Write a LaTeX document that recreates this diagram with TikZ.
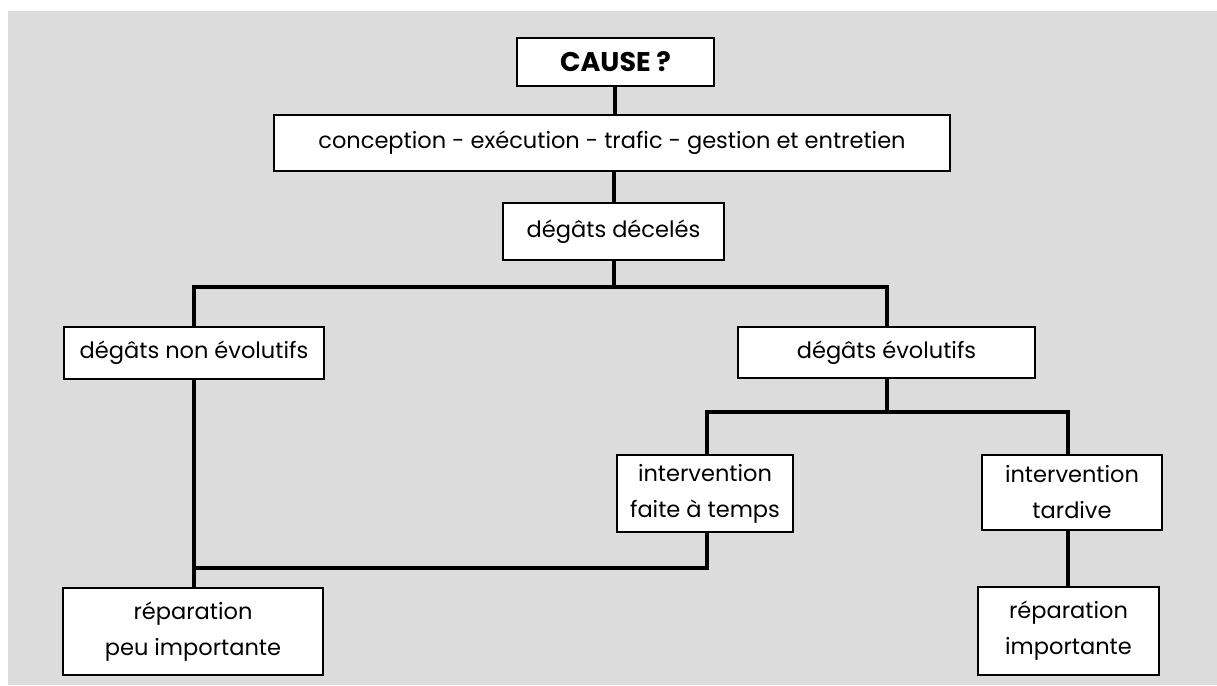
\documentclass[tikz,border=0pt]{standalone}
\usepackage{fontspec}
\setmainfont{Poppins}
\definecolor{bggray}{HTML}{DCDCDC}
\tikzset{
  box/.style={draw=black, line width=2.6pt, fill=white, inner sep=0pt, align=center,
    font=\fontsize{22.5}{36}\selectfont},
  link/.style={line width=4.6pt, line cap=rect}
}
\begin{document}
\begin{tikzpicture}[x=1pt,y=-1pt]
\useasboundingbox (0,0) rectangle (1217,685);
\fill[white] (0,0) rectangle (1217,685);
\fill[bggray] (8,11) rectangle (1217,685);

\node[box, minimum width=197pt, minimum height=48pt, font=\fontsize{27}{35}\selectfont\bfseries] (cause) at (615.5,62) {CAUSE ?};
\node[box, minimum width=676pt, minimum height=56pt] (concept) at (612,143) {conception - exécution - trafic - gestion et entretien};
\node[box, minimum width=221pt, minimum height=57pt] (decel) at (613.5,231.5) {dégâts décelés};
\node[box, minimum width=260pt, minimum height=52pt] (nonevol) at (194,353) {dégâts non évolutifs};
\node[box, minimum width=297pt, minimum height=51pt] (evol) at (886.5,352.5) {dégâts évolutifs};
\node[box, minimum width=176pt, minimum height=77pt] (atemps) at (705,493.5) {intervention\\faite à temps};
\node[box, minimum width=180pt, minimum height=75pt] (tardive) at (1072,492.5) {intervention\\tardive};
\node[box, minimum width=260pt, minimum height=87pt] (reppeu) at (193,631.5) {réparation\\peu importante};
\node[box, minimum width=181pt, minimum height=88pt] (repimp) at (1068.5,631) {réparation\\importante};

\coordinate (j1) at (614,287);
\coordinate (j1l) at (194,287);
\coordinate (j1r) at (887,287);
\coordinate (j2) at (887,412);
\coordinate (j2l) at (707,412);
\coordinate (j2r) at (1068,412);
\coordinate (j3) at (707,568);
\coordinate (j3l) at (194,568);

\draw[link, line cap=butt] (cause.south -| 615,0) -- (concept.north -| 615,0);
\draw[link, line cap=butt] (concept.south -| 614,0) -- (decel.north -| 614,0);
\draw[link, line cap=butt] (decel.south -| j1) -- (j1);
\draw[link] (j1l) -- (j1r);
\draw[link, line cap=butt] (j1l) -- (nonevol.north -| j1l);
\draw[link, line cap=butt] (j1r) -- (evol.north -| j1r);
\draw[link, line cap=butt] (nonevol.south -| j1l) -- (reppeu.north -| j1l);
\draw[link, line cap=butt] (evol.south -| j2) -- (j2);
\draw[link] (j2l) -- (j2r);
\draw[link, line cap=butt] (j2l) -- (atemps.north -| j2l);
\draw[link, line cap=butt] (j2r) -- (tardive.north -| j2r);
\draw[link] (atemps.south -| j3) -- (j3) -- (j3l);
\draw[link, line cap=butt] (tardive.south -| j2r) -- (repimp.north -| j2r);
\end{tikzpicture}
\end{document}
